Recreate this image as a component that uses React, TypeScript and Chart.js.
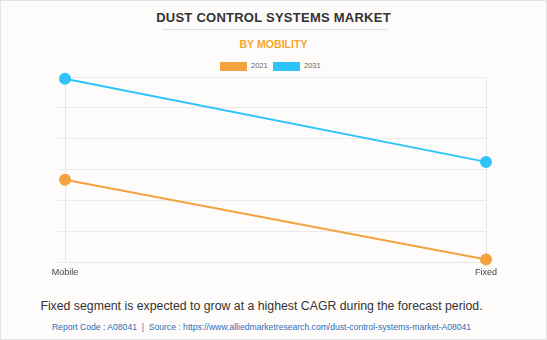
import React, { useEffect, useRef } from "react";
import { Chart, registerables } from "chart.js";

Chart.register(...registerables);

const categories = ["Mobile", "Fixed"];
const seriesLabels = ["2021", "2031"];
const values2021 = [2.67, 0.09];
const values2031 = [5.94, 3.25];
const colors = ["#f2a33f", "#2ec4fb"];

const title = "DUST CONTROL SYSTEMS MARKET";
const subtitle = "BY MOBILITY";
const note = "Fixed segment is expected to grow at a highest CAGR during the forecast period.";
const source =
  "Report Code : A08041  |  Source : https://www.alliedmarketresearch.com/dust-control-systems-market-A08041";

export default function App() {
  const ref = useRef<HTMLCanvasElement | null>(null);

  useEffect(() => {
    document.body.style.margin = "0";
    if (!ref.current) return;
    const chart = new Chart(ref.current, {
      type: "line",
      data: {
        labels: categories,
        datasets: [
          {
            label: seriesLabels[0],
            data: values2021,
            borderColor: colors[0],
            backgroundColor: colors[0],
            pointBackgroundColor: colors[0],
            pointBorderColor: colors[0],
            borderWidth: 2,
            pointRadius: 5,
            tension: 0,
            clip: false,
          },
          {
            label: seriesLabels[1],
            data: values2031,
            borderColor: colors[1],
            backgroundColor: colors[1],
            pointBackgroundColor: colors[1],
            pointBorderColor: colors[1],
            borderWidth: 2,
            pointRadius: 5,
            tension: 0,
            clip: false,
          },
        ],
      },
      options: {
        animation: false,
        responsive: false,
        maintainAspectRatio: false,
        layout: { padding: { left: 57, right: 61, top: 6.5, bottom: 0 } },
        plugins: { legend: { display: false }, tooltip: { enabled: false } },
        scales: {
          x: {
            offset: false,
            grid: { color: "#e6e6e6", drawTicks: false },
            border: { color: "#e6e6e6" },
            ticks: {
              padding: 5,
              color: "#444",
              font: { family: "'Liberation Sans', Arial, sans-serif", size: 9 },
            },
          },
          y: {
            min: 0,
            max: 6,
            ticks: { display: false, stepSize: 1 },
            grid: { color: "#ebebeb", tickLength: 8 },
            border: { color: "#e6e6e6" },
          },
        },
      },
    });
    return () => chart.destroy();
  }, []);

  const font = "'Liberation Sans', Arial, sans-serif";

  return (
    <div
      style={{
        position: "relative",
        width: 547,
        height: 340,
        boxSizing: "border-box",
        border: "1px solid #e3e3e3",
        background: "#fdfcfb",
        fontFamily: font,
        overflow: "hidden",
      }}
    >
      <div
        style={{
          position: "absolute",
          left: 0,
          top: 9,
          width: 545,
          textAlign: "center",
          fontSize: 13,
          fontWeight: "bold",
          letterSpacing: 0.25,
          color: "#333",
          lineHeight: "16px",
        }}
      >
        {title}
      </div>
      <div
        style={{
          position: "absolute",
          left: 161,
          top: 28,
          width: 225,
          height: 1,
          background: "#dedede",
        }}
      />
      <div
        style={{
          position: "absolute",
          left: 0,
          top: 36,
          width: 545,
          textAlign: "center",
          fontSize: 10.6,
          fontWeight: "bold",
          color: "#f7a52a",
          lineHeight: "15px",
        }}
      >
        {subtitle}
      </div>
      {seriesLabels.map((s, i) => (
        <div
          key={s}
          style={{
            position: "absolute",
            left: 219 + i * 53,
            top: 60,
            display: "flex",
            alignItems: "center",
            height: 10,
          }}
        >
          <div style={{ width: 27, height: 9, background: colors[i] }} />
          <span style={{ fontSize: 7.5, color: "#666", marginLeft: 4, lineHeight: "10px" }}>{s}</span>
        </div>
      ))}
      <canvas
        ref={ref}
        width={547}
        height={213}
        style={{ position: "absolute", left: -1, top: 69, width: 547, height: 213 }}
      />
      <div
        style={{
          position: "absolute",
          left: -12,
          top: 297,
          width: 545,
          textAlign: "center",
          fontSize: 12.3,
          color: "#333",
          lineHeight: "16px",
        }}
      >
        {note}
      </div>
      <div
        style={{
          position: "absolute",
          left: -12,
          top: 320,
          width: 545,
          textAlign: "center",
          fontSize: 8.6,
          color: "#2f6db5",
          lineHeight: "12px",
          whiteSpace: "pre",
        }}
      >
        {source}
      </div>
    </div>
  );
}
